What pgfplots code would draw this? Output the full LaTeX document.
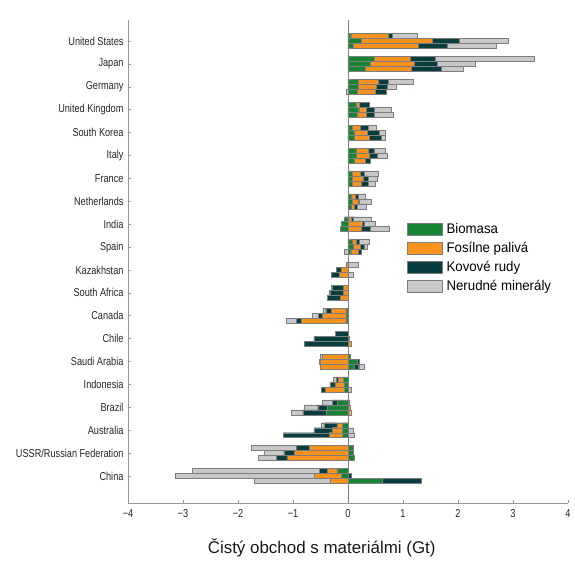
\documentclass[border=0pt]{standalone}
\usepackage{fontspec}
\setmainfont{Liberation Sans}
\newfontfamily\narrowfont[FakeStretch=0.8]{Liberation Sans}
\newfontfamily\legfont[FakeStretch=0.95]{Liberation Sans}
\usepackage{pgfplots}
\usepackage{pgfplotstable}
\pgfplotsset{compat=1.18}
\definecolor{cBio}{RGB}{22,132,52}
\definecolor{cFos}{RGB}{247,146,30}
\definecolor{cMet}{RGB}{8,62,64}
\definecolor{cNon}{RGB}{200,200,200}
\definecolor{cEdge}{RGB}{125,125,125}

\pgfplotstableread{
y bio fos met non
-0.218 0.05 0.68 0.08 0.45
0 0.235 1.30 0.48 0.89
0.218 0.09 1.18 0.54 0.89
0.782 0.485 0.655 0.44 1.80
1 0.41 0.80 0.42 0.69
1.218 0.32 0.83 0.54 0.40
1.782 0.19 0.355 0.185 0.45
2 0.18 0.34 0.19 0.16
2.218 0.165 0.325 0.21 -0.03
2.782 0.15 0.06 0.18 0
3 0.195 0.14 0.15 0.30
3.218 0.17 0.17 0.14 0.34
3.782 0.085 0.14 0.135 0.155
4 0.11 0.245 0.205 0.125
4.218 0.11 0.27 0.23 0.075
4.782 0.15 0.225 0.095 0.20
5 0.155 0.225 0.15 0.18
5.218 0.11 0.21 0.09 0
5.782 0.07 0.155 0.075 0.245
6 0.08 0.19 0.105 0.155
6.218 0.07 0.17 0.12 0.14
6.782 0.065 0.07 0.055 0.13
7 0.075 0.105 0.03 0.215
7.218 0.065 0.055 0.05 0.16
7.782 -0.06 0.05 0.05 0.32
8 -0.12 0.25 0.05 0.20
8.218 -0.14 0.24 0.16 0.35
8.782 0.08 0.07 0.05 0.18
9 0.10 0.12 0.08 0.05
9.218 0.05 0.13 0.06 -0.07
9.782 0 -0.04 0 0.18
10 0 -0.13 -0.08 0
10.218 0 -0.16 -0.14 0.10
10.782 0 -0.08 -0.20 -0.02
11 0 -0.08 -0.24 -0.03
11.218 0 -0.14 -0.23 0
11.782 -0.04 -0.26 -0.105 -0.05
12 -0.04 -0.425 -0.08 -0.10
12.218 -0.04 -0.81 -0.09 -0.19
12.782 0 0 -0.23 0
13 0 0.03 -0.62 0
13.218 0 0.06 -0.79 0
13.782 0.04 -0.47 0 -0.03
14 0.16 -0.50 0.04 -0.03
14.218 0.115 -0.51 0.08 0.105
14.782 -0.08 -0.10 -0.03 -0.06
15 -0.07 -0.17 -0.09 0
15.218 -0.07 -0.35 -0.06 0.06
15.782 -0.20 0.03 -0.09 -0.17
16 -0.38 0.04 -0.17 -0.25
16.218 -0.39 0.05 -0.43 -0.21
16.782 -0.10 -0.10 -0.225 -0.06
17 -0.10 -0.185 -0.335 0.09
17.218 -0.10 -0.245 -0.835 0.12
17.782 0.09 -0.70 -0.24 -0.815
18 0.09 -0.97 -0.195 -0.365
18.218 0.12 -1.11 -0.19 -0.325
18.782 -0.20 -0.18 -0.135 -2.315
19 -0.12 -0.50 0.06 -2.52
19.218 0.625 -0.315 0.71 -1.385
}\data

\pgfplotsset{
  base/.style={
    scale only axis, width=440bp, height=483bp,
    at={(0,0)}, anchor=south west,
    xmin=-4, xmax=4, ymin=-0.92, ymax=20.18, y dir=reverse,
    xbar stacked, bar width=0.218,
    clip=false,
    every axis plot/.append style={draw=cEdge, line width=0.4pt},
  },
}

\begin{document}
\begin{tikzpicture}
\begin{axis}[base,
  every axis plot post/.append style={legend image code/.code={\draw[#1] (0bp,-6bp) rectangle (35bp,6bp);}},
  axis x line*=bottom, axis y line*=left,
  axis line style={cEdge!80, line width=0.6pt},
  ytick={0,...,19},
  yticklabels={United States,Japan,Germany,United Kingdom,South Korea,Italy,France,Netherlands,India,Spain,Kazakhstan,South Africa,Canada,Chile,Saudi Arabia,Indonesia,Brazil,Australia,USSR/Russian Federation,China},
  xtick={-4,...,4},
  xticklabels={−4,−3,−2,−1,0,1,2,3,4},
  tick align=inside, major tick length=3bp,
  tick style={cEdge!80, line width=0.6pt},
  yticklabel style={font=\narrowfont\fontsize{11.5}{13}\selectfont, text=black!85, xshift=-1bp},
  xticklabel style={font=\narrowfont\fontsize{11.5}{13}\selectfont, text=black!85, yshift=-3bp},
  legend style={draw=none, fill=none, inner sep=0pt,
    at={(axis description cs:0.634,0.584)}, anchor=north west,
    font=\legfont\fontsize{14}{16}\selectfont, row sep=3.5bp,
    /tikz/every odd column/.append style={column sep=2bp}},
  legend cell align=left,
]
\draw[cEdge, line width=0.6pt] (axis cs:0,-0.92) -- (axis cs:0,20.18);
\addplot[fill=cBio] table[y=y, x expr={max(\thisrow{bio},0)}] {\data};
\addlegendentry{Biomasa}
\addplot[fill=cFos] table[y=y, x expr={max(\thisrow{fos},0)}] {\data};
\addlegendentry{Fosílne palivá}
\addplot[fill=cMet] table[y=y, x expr={max(\thisrow{met},0)}] {\data};
\addlegendentry{Kovové rudy}
\addplot[fill=cNon] table[y=y, x expr={max(\thisrow{non},0)}] {\data};
\addlegendentry{Nerudné minerály}
\node[font=\fontsize{17}{20}\selectfont, text=black!90] at (axis cs:-0.478,20.18) [yshift=-45bp] {Čistý obchod s materiálmi (Gt)};
\end{axis}
\begin{axis}[base, hide axis]
\addplot[fill=cBio] table[y=y, x expr={min(\thisrow{bio},0)}] {\data};
\addplot[fill=cFos] table[y=y, x expr={min(\thisrow{fos},0)}] {\data};
\addplot[fill=cMet] table[y=y, x expr={min(\thisrow{met},0)}] {\data};
\addplot[fill=cNon] table[y=y, x expr={min(\thisrow{non},0)}] {\data};
\end{axis}
\pgfresetboundingbox
\path[use as bounding box] (-128bp,-58bp) rectangle (447bp,503bp);
\end{tikzpicture}
\end{document}
